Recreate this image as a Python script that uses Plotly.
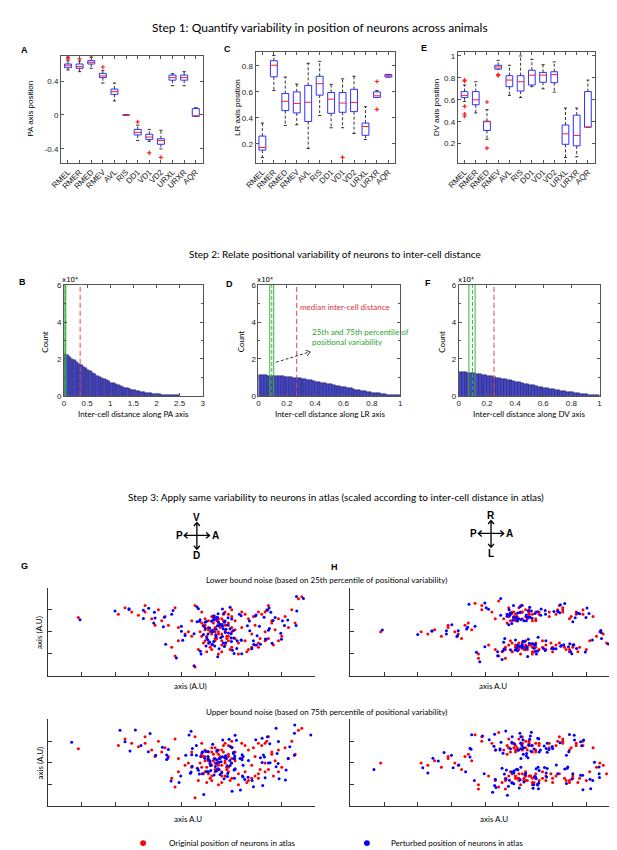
import numpy as np
import plotly.graph_objects as go

W, H = 617, 850

# ---------------- data ----------------
neurons = ['RMEL', 'RMER', 'RMED', 'RMEV', 'AVL', 'RIS', 'DD1', 'VD1', 'VD2', 'URXL', 'URXR', 'AQR']

# A: PA axis position
pa_med = [0.58, 0.57, 0.62, 0.46, 0.275, 0.0, -0.205, -0.26, -0.30, 0.44, 0.44, -0.01]
pa_q1 = [0.557, 0.55, 0.60, 0.44, 0.243, 0.0, -0.235, -0.29, -0.345, 0.41, 0.41, -0.016]
pa_q3 = [0.60, 0.60, 0.64, 0.49, 0.305, 0.0, -0.17, -0.227, -0.28, 0.47, 0.47, 0.075]
pa_lo = [0.53, 0.51, 0.55, 0.376, 0.165, 0.0, -0.30, -0.31, -0.40, 0.345, 0.345, -0.016]
pa_hi = [0.64, 0.635, 0.68, 0.525, 0.376, 0.0, -0.12, -0.17, -0.18, 0.486, 0.51, 0.086]
pa_out_i = [0, 0, 0, 1, 2, 3, 6, 7, 8]
pa_out_v = [0.70, 0.68, 0.66, 0.66, 0.70, 0.565, -0.082, -0.447, -0.50]

# C: LR axis position
lr_med = [0.172, 0.805, 0.527, 0.511, 0.52, 0.663, 0.544, 0.514, 0.519, 0.334, 0.57, 0.724]
lr_q1 = [0.152, 0.716, 0.456, 0.438, 0.372, 0.575, 0.435, 0.443, 0.448, 0.266, 0.557, 0.714]
lr_q3 = [0.26, 0.84, 0.587, 0.60, 0.65, 0.72, 0.595, 0.595, 0.62, 0.36, 0.60, 0.734]
lr_lo = [0.096, 0.61, 0.342, 0.347, 0.165, 0.418, 0.324, 0.324, 0.28, 0.233, 0.557, 0.714]
lr_hi = [0.36, 0.88, 0.714, 0.66, 0.82, 0.835, 0.658, 0.70, 0.72, 0.486, 0.61, 0.734]
lr_out_i = [7, 10, 10]
lr_out_v = [0.096, 0.68, 0.466]

# E: DV axis position
dv_med = [0.64, 0.60, 0.40, 0.90, 0.78, 0.765, 0.825, 0.825, 0.83, 0.29, 0.275, 0.35]
dv_q1 = [0.62, 0.555, 0.32, 0.88, 0.72, 0.68, 0.735, 0.76, 0.756, 0.194, 0.18, 0.35]
dv_q3 = [0.675, 0.675, 0.405, 0.915, 0.82, 0.82, 0.87, 0.85, 0.856, 0.37, 0.46, 0.675]
dv_lo = [0.585, 0.48, 0.24, 0.88, 0.64, 0.62, 0.72, 0.70, 0.67, 0.074, 0.08, 0.35]
dv_hi = [0.735, 0.765, 0.51, 0.96, 0.915, 1.0, 0.97, 0.92, 0.946, 0.525, 0.525, 0.78]
dv_out_i = [0, 0, 0, 0, 0, 2, 2, 3, 3]
dv_out_v = [0.78, 0.77, 0.54, 0.47, 0.45, 0.58, 0.16, 0.83, 0.82]

# histograms (counts in units of 1e4)
b_bin = 0.05
b_counts = [2.25, 2.2, 2.1, 2.0, 1.92, 1.82, 1.74, 1.65, 1.56, 1.48,
            1.40, 1.32, 1.24, 1.17, 1.10, 1.03, 0.96, 0.90, 0.84, 0.78,
            0.72, 0.67, 0.62, 0.57, 0.52, 0.48, 0.44, 0.40, 0.36, 0.33,
            0.30, 0.27, 0.24, 0.21, 0.19, 0.17, 0.15, 0.13, 0.11, 0.10,
            0.09, 0.08, 0.07, 0.06, 0.05, 0.04, 0.035, 0.03, 0.025, 0.02]
d_bin = 0.02
d_counts = [1.12, 1.12, 1.11, 1.10, 1.09, 1.08, 1.07, 1.06, 1.05, 1.04,
            1.02, 1.00, 0.98, 0.96, 0.94, 0.92, 0.89, 0.86, 0.83, 0.80,
            0.77, 0.74, 0.71, 0.68, 0.65, 0.62, 0.58, 0.55, 0.52, 0.49,
            0.46, 0.43, 0.40, 0.37, 0.34, 0.31, 0.28, 0.25, 0.22, 0.20,
            0.17, 0.15, 0.13, 0.11, 0.09, 0.07, 0.05, 0.04, 0.03, 0.02]
f_bin = 0.02
f_counts = [1.30, 1.29, 1.27, 1.25, 1.23, 1.21, 1.19, 1.16, 1.14, 1.11,
            1.08, 1.05, 1.02, 0.99, 0.96, 0.93, 0.90, 0.86, 0.83, 0.80,
            0.76, 0.73, 0.70, 0.66, 0.63, 0.60, 0.57, 0.54, 0.50, 0.47,
            0.44, 0.41, 0.38, 0.35, 0.32, 0.30, 0.27, 0.24, 0.22, 0.20,
            0.18, 0.16, 0.14, 0.12, 0.10, 0.09, 0.07, 0.06, 0.05, 0.04]

# percentile lines (25th, 75th), mid line and median inter-cell distance
b_pct = [0.02, 0.04]; b_mid = 0.03; b_median = 0.35
d_pct = [0.08, 0.108]; d_mid = 0.094; d_median = 0.27
f_pct = [0.072, 0.116]; f_mid = 0.097; f_median = 0.25

# atlas positions (A.U)
atlas_pa = [0.9, 2.1, 2.3, 2.5, 2.7, 2.9, 3.1, 3.3, 3.4, 3.6,
            3.5, 3.8, 3.9, 3.7, 3.8, 3.9, 4.2, 4.3, 4.4, 4.3,
            4.1, 4.5, 4.7, 4.8, 4.9, 4.9, 5.0, 5.0, 5.1, 5.1,
            5.2, 5.2, 5.3, 5.3, 5.4, 5.4, 5.5, 5.5, 5.6, 5.0,
            4.8, 5.2, 5.6, 5.4, 4.9, 5.1, 5.8, 5.9, 6.0, 6.1,
            6.2, 6.3, 6.4, 6.5, 6.6, 6.7, 6.8, 6.9, 7.0, 7.1,
            7.2, 7.3, 7.5, 7.6, 6.0, 6.3, 6.6, 6.9, 5.8, 6.2,
            4.6, 4.4, 3.2, 2.9, 5.7, 6.5, 7.4, 5.3, 4.7, 5.5]
atlas_dv = [2.65, 2.8, 3.1, 2.9, 2.75, 2.9, 2.6, 3.0, 2.5, 2.3,
            2.7, 3.1, 2.2, 1.3, 0.9, 1.6, 2.0, 1.8, 0.4, 2.5,
            1.9, 1.2, 2.3, 2.1, 1.9, 2.5, 2.2, 1.7, 2.4, 2.0,
            1.6, 2.6, 2.1, 1.4, 2.3, 1.8, 2.0, 1.3, 2.5, 2.7,
            1.5, 1.1, 1.7, 2.8, 1.2, 1.0, 2.2, 1.6, 2.6, 1.9,
            2.3, 1.5, 2.8, 2.0, 1.7, 2.4, 2.1, 2.6, 1.8, 2.7,
            2.2, 3.0, 3.5, 3.6, 1.2, 1.3, 3.2, 1.6, 2.9, 1.4,
            2.9, 3.2, 2.3, 3.2, 1.0, 2.9, 2.4, 2.9, 1.6, 3.0]
atlas_lr = [2.0, 2.0, 1.9, 2.1, 1.8, 2.2, 2.0, 1.7, 2.3, 2.1,
            2.4, 1.0, 3.2, 3.3, 0.8, 3.0, 2.9, 1.2, 0.9, 2.6,
            1.4, 1.1, 2.7, 2.9, 1.4, 2.8, 1.3, 2.6, 1.5, 2.9,
            1.2, 2.7, 1.4, 3.0, 1.3, 2.8, 1.5, 2.6, 1.2, 3.1,
            1.1, 1.6, 2.9, 1.0, 2.5, 3.2, 1.4, 2.7, 1.3, 2.8,
            1.5, 2.9, 1.2, 2.6, 1.4, 2.9, 1.3, 3.0, 1.2, 1.6,
            2.7, 1.8, 1.9, 1.5, 1.1, 3.0, 1.3, 2.8, 1.2, 3.2,
            0.8, 3.4, 1.9, 2.3, 1.6, 1.1, 2.0, 2.9, 3.1, 1.3]
# dense central cluster of the atlas
cluster_pa = [4.55, 4.6, 4.65, 4.7, 4.75, 4.8, 4.85, 4.9, 4.95, 5.0,
              5.05, 5.1, 5.15, 5.2, 5.25, 5.3, 5.35, 5.4, 5.45, 5.5,
              4.6, 4.7, 4.8, 4.9, 5.0, 5.1, 5.2, 5.3, 5.4, 5.5,
              4.65, 4.75, 4.85, 4.95, 5.05, 5.15, 5.25, 5.35, 5.6, 5.7,
              5.9, 6.1, 6.3, 6.5, 6.7, 5.95, 6.15, 6.35, 6.55, 6.75]
cluster_dv = [2.0, 2.4, 1.5, 2.6, 1.8, 2.2, 1.3, 2.7, 2.1, 1.6,
              2.5, 1.9, 2.3, 1.4, 2.8, 2.0, 1.7, 2.4, 1.2, 2.2,
              1.8, 2.1, 2.5, 1.4, 2.0, 2.6, 1.9, 2.3, 1.6, 2.7,
              2.3, 1.1, 2.0, 2.4, 1.7, 2.2, 2.5, 1.8, 2.1, 1.5,
              2.8, 1.3, 2.9, 1.6, 2.5, 1.1, 2.7, 1.7, 3.0, 1.4]
cluster_lr = [2.6, 1.2, 2.8, 1.4, 2.5, 1.1, 2.9, 1.3, 2.7, 1.5,
              1.0, 2.6, 1.3, 3.0, 1.2, 2.8, 1.4, 2.5, 1.1, 2.9,
              1.3, 2.7, 1.5, 2.6, 1.2, 2.9, 1.4, 2.8, 1.1, 2.5,
              2.4, 1.6, 2.7, 1.3, 2.9, 1.2, 2.6, 1.4, 2.8, 1.3,
              2.9, 1.4, 3.1, 1.2, 2.8, 1.5, 3.0, 1.3, 2.7, 1.1]

# displacement of each neuron, lower bound noise
low_dpa = [0.05, -0.1, 0.12, -0.08, 0.15, -0.05, 0.1, -0.12, 0.08, -0.15,
           0.2, -0.06, 0.09, -0.18, 0.04, 0.13, -0.1, 0.07, -0.03, 0.16,
           -0.11, 0.06, 0.14, -0.09, 0.03, -0.16, 0.11, -0.04, 0.18, -0.07,
           0.05, -0.13, 0.1, 0.02, -0.19, 0.08, -0.05, 0.15, -0.1, 0.04,
           0.12, -0.08, 0.06, -0.14, 0.09, -0.02, 0.17, -0.11, 0.03, -0.06,
           0.13, -0.15, 0.07, 0.1, -0.09, 0.04, -0.17, 0.12, -0.03, 0.08,
           -0.12, 0.15, -0.06, 0.05, 0.1, -0.14, 0.02, 0.09, -0.07, 0.16,
           -0.1, 0.06, -0.04, 0.11, -0.13, 0.07, 0.03, -0.08, 0.14, -0.05,
           0.1, -0.07, 0.13, -0.15, 0.04, 0.09, -0.12, 0.06, -0.03, 0.17,
           -0.09, 0.12, -0.05, 0.08, -0.16, 0.03, 0.14, -0.1, 0.07, -0.13,
           0.15, -0.04, 0.1, -0.08, 0.02, -0.14, 0.11, -0.06, 0.16, -0.11,
           0.05, -0.17, 0.09, 0.12, -0.02, 0.07, -0.1, 0.13, -0.05, 0.08,
           -0.12, 0.14, -0.07, 0.03, 0.1, -0.15, 0.06, -0.09, 0.12, -0.04]
low_ddv = [-0.1, 0.15, -0.05, 0.12, -0.14, 0.08, 0.03, -0.11, 0.16, -0.07,
           0.1, -0.13, 0.05, 0.14, -0.09, 0.02, -0.16, 0.11, 0.06, -0.04,
           0.13, -0.08, -0.12, 0.07, 0.15, -0.03, 0.09, -0.14, 0.04, 0.12,
           -0.1, 0.06, -0.15, 0.11, 0.03, -0.08, 0.14, -0.05, 0.09, -0.12,
           -0.06, 0.13, -0.1, 0.04, 0.16, -0.13, 0.08, 0.02, -0.11, 0.15,
           -0.04, 0.1, -0.14, 0.07, -0.02, 0.12, 0.05, -0.09, 0.14, -0.16,
           0.09, -0.05, 0.11, -0.08, 0.03, 0.13, -0.12, 0.06, -0.1, 0.04,
           0.15, -0.07, 0.1, -0.13, 0.02, 0.08, -0.11, 0.14, -0.06, 0.12,
           -0.12, 0.08, 0.14, -0.05, 0.1, -0.15, 0.06, 0.03, -0.09, 0.13,
           0.05, -0.11, 0.16, -0.07, 0.02, 0.12, -0.14, 0.09, -0.03, 0.11,
           -0.08, 0.15, -0.02, 0.1, -0.13, 0.04, 0.07, -0.16, 0.12, -0.06,
           0.14, -0.1, 0.03, -0.12, 0.09, 0.06, -0.15, 0.11, -0.04, 0.13,
           -0.07, 0.1, -0.13, 0.05, 0.15, -0.09, 0.02, 0.12, -0.11, 0.08]
low_dlr = [0.08, -0.12, 0.14, -0.06, 0.1, -0.15, 0.05, 0.12, -0.09, 0.03,
           -0.14, 0.07, 0.11, -0.04, -0.16, 0.09, 0.13, -0.1, 0.02, 0.15,
           -0.08, 0.12, -0.05, 0.1, -0.13, 0.06, 0.04, -0.11, 0.16, -0.02,
           0.09, -0.14, 0.07, 0.12, -0.06, 0.03, -0.1, 0.15, -0.08, 0.05,
           0.11, -0.03, 0.14, -0.12, 0.08, 0.01, -0.15, 0.1, -0.07, 0.13,
           -0.09, 0.05, 0.12, -0.14, 0.06, -0.04, 0.11, 0.08, -0.12, 0.03,
           0.14, -0.1, 0.07, -0.05, 0.13, -0.08, 0.1, -0.15, 0.04, 0.09,
           -0.06, 0.12, -0.11, 0.02, 0.15, -0.09, 0.06, -0.13, 0.1, -0.04,
           0.11, -0.06, 0.04, 0.13, -0.12, 0.08, -0.15, 0.1, -0.03, 0.06,
           0.14, -0.09, 0.12, -0.05, 0.07, -0.13, 0.02, 0.16, -0.1, 0.05,
           -0.11, 0.09, 0.13, -0.07, 0.15, -0.04, 0.08, -0.14, 0.03, 0.12,
           -0.08, 0.1, -0.12, 0.06, -0.02, 0.14, -0.1, 0.04, 0.11, -0.15,
           0.07, -0.05, 0.13, -0.09, 0.02, 0.1, -0.13, 0.08, -0.06, 0.15]
# displacement of each neuron, upper bound noise
high_dpa = [-0.2, 0.35, -0.15, 0.28, -0.4, 0.1, 0.32, -0.25, 0.18, -0.38,
            0.05, 0.42, -0.3, 0.22, -0.12, 0.36, -0.08, -0.33, 0.26, 0.14,
            0.4, -0.22, 0.09, -0.36, 0.3, 0.16, -0.28, 0.38, -0.06, 0.24,
            -0.35, 0.12, 0.29, -0.18, 0.41, -0.27, 0.07, 0.34, -0.14, -0.39,
            0.21, 0.31, -0.24, 0.11, -0.37, 0.27, 0.04, -0.3, 0.36, -0.1,
            0.25, -0.41, 0.17, 0.33, -0.19, -0.05, 0.39, -0.26, 0.13, 0.28,
            -0.34, 0.08, 0.37, -0.21, 0.15, -0.31, 0.23, 0.02, -0.38, 0.3,
            0.19, -0.12, 0.35, -0.29, 0.06, 0.4, -0.16, 0.26, -0.23, 0.1,
            0.32, -0.28, 0.15, -0.4, 0.22, 0.38, -0.1, -0.33, 0.27, 0.06,
            -0.36, 0.19, 0.41, -0.17, 0.3, -0.24, 0.09, 0.35, -0.3, -0.05,
            0.26, -0.39, 0.13, 0.37, -0.21, 0.04, -0.35, 0.29, 0.18, -0.27,
            0.4, -0.13, 0.24, -0.32, 0.07, 0.34, -0.19, -0.38, 0.21, 0.12,
            -0.26, 0.33, -0.08, 0.39, -0.22, 0.16, -0.31, 0.25, -0.14, 0.36]
high_ddv = [0.3, -0.25, 0.4, -0.1, 0.22, -0.38, 0.12, 0.35, -0.28, 0.06,
            -0.33, 0.18, 0.42, -0.2, 0.27, -0.07, 0.36, -0.4, 0.15, 0.3,
            -0.24, 0.39, -0.13, 0.25, -0.35, 0.08, 0.33, -0.18, -0.42, 0.2,
            0.37, -0.27, 0.11, 0.3, -0.15, 0.41, -0.32, 0.05, 0.26, -0.22,
            0.34, -0.4, 0.17, -0.09, 0.29, 0.38, -0.3, 0.13, -0.36, 0.21,
            0.07, -0.26, 0.4, -0.17, 0.32, -0.39, 0.1, 0.28, -0.12, -0.34,
            0.23, 0.36, -0.21, 0.14, -0.29, 0.04, 0.39, -0.33, 0.19, -0.08,
            -0.37, 0.26, -0.14, 0.31, -0.24, 0.09, 0.35, -0.41, 0.16, 0.27,
            -0.35, 0.26, 0.1, -0.22, 0.39, -0.14, 0.31, -0.4, 0.18, 0.05,
            -0.28, 0.34, -0.09, 0.23, -0.37, 0.14, 0.41, -0.19, 0.27, -0.32,
            0.08, -0.25, 0.36, -0.12, 0.3, -0.38, 0.2, 0.02, -0.3, 0.35,
            -0.16, 0.4, -0.27, 0.11, 0.33, -0.2, 0.06, -0.35, 0.28, -0.1,
            0.24, -0.33, 0.17, 0.38, -0.23, 0.09, -0.4, 0.3, 0.13, -0.18]
high_dlr = [-0.3, 0.22, -0.12, 0.38, -0.26, 0.15, -0.4, 0.08, 0.33, -0.19,
            0.28, -0.35, 0.1, -0.06, 0.4, -0.23, 0.17, 0.3, -0.38, 0.05,
            0.36, -0.14, 0.25, -0.31, 0.12, 0.41, -0.09, 0.2, -0.27, 0.34,
            -0.16, 0.39, -0.32, 0.07, 0.24, -0.4, 0.3, -0.11, 0.18, 0.37,
            -0.25, 0.13, -0.36, 0.29, -0.05, 0.21, 0.35, -0.2, 0.42, -0.13,
            0.31, -0.28, 0.06, 0.38, -0.34, 0.16, -0.1, 0.27, -0.39, 0.22,
            0.09, -0.3, 0.33, -0.17, 0.4, -0.24, 0.14, 0.26, -0.36, 0.11,
            0.28, -0.08, 0.37, -0.21, 0.19, -0.33, 0.03, 0.24, -0.15, 0.35,
            0.27, -0.33, 0.4, -0.15, 0.08, 0.35, -0.25, 0.19, -0.38, 0.3,
            -0.07, 0.22, -0.31, 0.37, -0.18, 0.12, -0.4, 0.28, 0.03, -0.26,
            0.34, -0.11, 0.21, -0.36, 0.39, -0.2, 0.14, 0.31, -0.29, -0.06,
            0.25, -0.34, 0.1, 0.38, -0.22, 0.17, -0.39, 0.29, -0.13, 0.06,
            -0.3, 0.36, -0.17, 0.23, -0.28, 0.41, -0.09, 0.2, -0.35, 0.15]

# ---------------- helpers ----------------
TICK_FONT = dict(family='Liberation Sans', size=8, color='#222')
TEXT_FONT = 'Lato'


def px(x):
    return x / W


def py(y):
    return 1 - y / H


def ax_names(n):
    s = '' if n == 1 else str(n)
    return 'x' + s, 'y' + s, 'xaxis' + s, 'yaxis' + s


fig = go.Figure()
annotations = []
shapes = []


def note(x, y, text, size=8, color='black', family=TEXT_FONT, xanchor='center', angle=0):
    annotations.append(dict(x=px(x), y=py(y), xref='paper', yref='paper', text=text, showarrow=False,
                            xanchor=xanchor, yanchor='middle', textangle=angle, align='left',
                            font=dict(family=family, size=size, color=color)))


def path(points_list, color='black', width=1, dash=None):
    # points in page pixels -> svg path in paper fractions
    d = ''
    for pts in points_list:
        d += 'M' + ' L'.join('%.5f,%.5f' % (px(a), py(b)) for a, b in pts) + ' '
    line = dict(color=color, width=width)
    if dash:
        line['dash'] = dash
    shapes.append(dict(type='path', xref='paper', yref='paper', path=d.strip(), line=line))


def set_axes(n, xs, ys, xkw, ykw):
    xr, yr, xa, ya = ax_names(n)
    fig.update_layout(**{
        xa: dict(domain=[px(xs[0]), px(xs[1])], anchor=yr, **xkw),
        ya: dict(domain=[py(ys[1]), py(ys[0])], anchor=xr, **ykw),
    })


box_axis = dict(showline=True, linecolor='#555', linewidth=1, mirror='ticks', ticks='inside',
                ticklen=3, tickcolor='#555', showgrid=False, zeroline=False, tickfont=TICK_FONT)


def add_boxes(n, q1, med, q3, lo, hi, out_i, out_v):
    xr, yr, _, _ = ax_names(n)
    bx, by, wx, wy, cx, cy, mx, my = [], [], [], [], [], [], [], []
    for i in range(len(med)):
        bx += [i - 0.3, i + 0.3, i + 0.3, i - 0.3, i - 0.3, None]
        by += [q1[i], q1[i], q3[i], q3[i], q1[i], None]
        wx += [i, i, None, i, i, None]
        wy += [q3[i], hi[i], None, q1[i], lo[i], None]
        cx += [i - 0.14, i + 0.14, None, i - 0.14, i + 0.14, None]
        cy += [hi[i], hi[i], None, lo[i], lo[i], None]
        mx += [i - 0.3, i + 0.3, None]
        my += [med[i], med[i], None]
    fig.add_trace(go.Scatter(x=wx, y=wy, mode='lines', line=dict(color='black', width=0.8, dash='3px,2px'),
                             xaxis=xr, yaxis=yr, hoverinfo='skip'))
    fig.add_trace(go.Scatter(x=cx, y=cy, mode='lines', line=dict(color='black', width=0.8),
                             xaxis=xr, yaxis=yr, hoverinfo='skip'))
    fig.add_trace(go.Scatter(x=bx, y=by, mode='lines', line=dict(color='#3030ff', width=1),
                             xaxis=xr, yaxis=yr, hoverinfo='skip'))
    fig.add_trace(go.Scatter(x=mx, y=my, mode='lines', line=dict(color='#ff2020', width=1),
                             xaxis=xr, yaxis=yr, hoverinfo='skip'))
    fig.add_trace(go.Scatter(x=out_i, y=out_v, mode='markers',
                             marker=dict(symbol='cross-thin', size=3, line=dict(color='#ff2020', width=1.2)),
                             xaxis=xr, yaxis=yr, hoverinfo='skip'))


# ---------------- Step 1: box plots ----------------
cat_x = dict(range=[-0.6, 11.6], tickvals=list(range(len(neurons))), ticktext=neurons, tickangle=-45)
add_boxes(1, pa_q1, pa_med, pa_q3, pa_lo, pa_hi, pa_out_i, pa_out_v)
set_axes(1, (43, 188), (44, 153), dict(box_axis, **cat_x),
         dict(box_axis, range=[-0.57, 0.70], tickvals=[-0.4, 0, 0.4], ticktext=['-0.4', '0', '0.4']))
add_boxes(2, lr_q1, lr_med, lr_q3, lr_lo, lr_hi, lr_out_i, lr_out_v)
set_axes(2, (242, 385), (40, 153), dict(box_axis, **cat_x),
         dict(box_axis, range=[0.05, 0.91], tickvals=[0.2, 0.4, 0.6, 0.8]))
add_boxes(3, dv_q1, dv_med, dv_q3, dv_lo, dv_hi, dv_out_i, dv_out_v)
set_axes(3, (449, 589), (40, 153), dict(box_axis, **cat_x),
         dict(box_axis, range=[0.02, 1.04], tickvals=[0.2, 0.4, 0.6, 0.8, 1.0],
              ticktext=['0.2', '0.4', '0.6', '0.8', '1']))

note(308, 16, 'Step 1: Quantify variability in position of neurons across animals', size=12)
note(6, 38, '<b>A</b>', size=9, family='Liberation Sans')
note(213, 37, '<b>C</b>', size=9, family='Liberation Sans')
note(414, 36, '<b>E</b>', size=9, family='Liberation Sans')
note(12, 98, 'PA axis position', size=8, family='Liberation Sans', angle=-90)
note(224, 97, 'LR axis position', size=8, family='Liberation Sans', angle=-90)
note(428, 97, 'DV axis position', size=8, family='Liberation Sans', angle=-90)

# ---------------- Step 2: histograms ----------------
hist_y = dict(box_axis, range=[0, 6], tickvals=[0, 2, 4, 6], ticktext=['0', '2', '4', '6'],
              minor=dict(dtick=1, ticks='inside', ticklen=2, tickcolor='#555', showgrid=False))


def add_hist(n, counts, bw, pct, mid, median):
    xr, yr, _, _ = ax_names(n)
    centers = (np.arange(len(counts)) + 0.5) * bw
    fig.add_trace(go.Bar(x=centers, y=counts, width=bw, xaxis=xr, yaxis=yr,
                         marker=dict(color='#4646c8', line=dict(color='#1c1c60', width=0.5)), hoverinfo='skip'))
    for v in pct:
        fig.add_trace(go.Scatter(x=[v, v], y=[0, 6], mode='lines', line=dict(color='#3cb043', width=1),
                                 xaxis=xr, yaxis=yr, hoverinfo='skip'))
    fig.add_trace(go.Scatter(x=[mid, mid], y=[0, 6], mode='lines', line=dict(color='#3cb043', width=1, dash='4px,2px'),
                             xaxis=xr, yaxis=yr, hoverinfo='skip'))
    fig.add_trace(go.Scatter(x=[median, median], y=[0, 6], mode='lines',
                             line=dict(color='#e8404a', width=1, dash='5px,3px'),
                             xaxis=xr, yaxis=yr, hoverinfo='skip'))


add_hist(4, b_counts, b_bin, b_pct, b_mid, b_median)
set_axes(4, (46, 188), (276, 388), dict(box_axis, range=[0, 3], tickvals=[0, 0.5, 1, 1.5, 2, 2.5, 3],
                                        ticktext=['0', '0.5', '1', '1.5', '2', '2.5', '3']), hist_y)
dx = dict(box_axis, range=[0, 1], tickvals=[0, 0.2, 0.4, 0.6, 0.8, 1], ticktext=['0', '0.2', '0.4', '0.6', '0.8', '1'])
add_hist(5, d_counts, d_bin, d_pct, d_mid, d_median)
set_axes(5, (245, 390), (276, 388), dx, hist_y)
add_hist(6, f_counts, f_bin, f_pct, f_mid, f_median)
set_axes(6, (450, 594), (276, 388), dx, hist_y)

note(323, 245, 'Step 2: Relate positional variability of neurons to inter-cell distance', size=10)
note(4, 273, '<b>B</b>', size=9, family='Liberation Sans')
note(215, 275, '<b>D</b>', size=9, family='Liberation Sans')
note(418, 274, '<b>F</b>', size=9, family='Liberation Sans')
for xl in (52, 252, 457):
    note(xl, 271, 'x10\u2074', size=7, family='DejaVu Sans', xanchor='center')
for xc in (27, 228, 433):
    note(xc, 333, 'Count', size=8, angle=-90)
note(117, 406, 'Inter-cell distance along PA axis', size=8)
note(318, 406, 'Inter-cell distance along LR axis', size=8)
note(522, 406, 'Inter-cell distance along DV axis', size=8)
note(285, 298, 'median inter-cell distance', size=8, color='#e0303a', xanchor='left')
note(298, 323, '25th and 75th percentile of', size=8, color='#2aa52a', xanchor='left')
note(298, 334, 'positional variability', size=8, color='#2aa52a', xanchor='left')
# dashed arrow pointing to the percentile lines
path([[(263, 354), (296, 344)]], color='#333', width=1, dash='3px,2px')
path([[(295.0, 347.5), (298, 343.5), (293.3, 341.8)]], color='#333', width=1)

# ---------------- Step 3: scatter panels ----------------
note(324, 490, 'Step 3: Apply same variability to neurons in atlas (scaled according to inter-cell distance in atlas)',
     size=10)


def compass(cx, cy, top, bottom):
    t, b, l, r = cy - 13, cy + 14, cx - 13, cx + 13
    path([[(cx, t), (cx, b)], [(l, cy), (r, cy)],
          [(cx - 3, t + 3.5), (cx, t), (cx + 3, t + 3.5)],
          [(cx - 3, b - 3.5), (cx, b), (cx + 3, b - 3.5)],
          [(l + 3.5, cy - 3), (l, cy), (l + 3.5, cy + 3)],
          [(r - 3.5, cy - 3), (r, cy), (r - 3.5, cy + 3)]], color='black', width=1.3)
    note(cx, cy - 18, '<b>%s</b>' % top, size=10, family='Liberation Sans')
    note(cx, cy + 20, '<b>%s</b>' % bottom, size=10, family='Liberation Sans')
    note(cx - 18, cy, '<b>P</b>', size=10, family='Liberation Sans')
    note(cx + 19, cy, '<b>A</b>', size=10, family='Liberation Sans')


compass(182, 529, 'V', 'D')
compass(483, 527, 'R', 'L')
note(6, 560, '<b>G</b>', size=9, family='Liberation Sans')
note(323, 561, '<b>H</b>', size=9, family='Liberation Sans')
note(315, 574, 'Lower bound noise (based on 25th percentile of positional variability)', size=8)
note(315, 707, 'Upper bound noise (based on 75th percentile of positional variability)', size=8)

all_pa = np.array(atlas_pa + cluster_pa)
all_dv = np.array(atlas_dv + cluster_dv)
all_lr = np.array(atlas_lr + cluster_lr)
low_pa = all_pa + np.array(low_dpa)
low_dv = all_dv + np.array(low_ddv)
low_lr = all_lr + np.array(low_dlr)
high_pa = all_pa + np.array(high_dpa)
high_dv = all_dv + np.array(high_ddv)
high_lr = all_lr + np.array(high_dlr)

sc_axis = dict(showline=True, linecolor='#333', linewidth=1.3, mirror=False, ticks='inside', ticklen=4,
               tickcolor='#333', tickwidth=1.2, showgrid=False, zeroline=False, showticklabels=False, dtick=1)

panels = [
    (7, (30, 303), (582, 671), all_dv, low_pa, low_dv),
    (8, (339, 615), (582, 671), all_lr, low_pa, low_lr),
    (9, (30, 303), (715, 803), all_dv, high_pa, high_dv),
    (10, (339, 615), (715, 803), all_lr, high_pa, high_lr),
]
for n, xs, ys, orig_y, pert_x, pert_y in panels:
    xr, yr, _, _ = ax_names(n)
    fig.add_trace(go.Scatter(x=all_pa, y=orig_y, mode='markers', xaxis=xr, yaxis=yr,
                             marker=dict(color='#ff0000', size=3), hoverinfo='skip'))
    fig.add_trace(go.Scatter(x=pert_x, y=pert_y, mode='markers', xaxis=xr, yaxis=yr,
                             marker=dict(color='#0000ff', size=3), hoverinfo='skip'))
    set_axes(n, xs, ys, dict(sc_axis, range=[0, 8]), dict(sc_axis, range=[0, 4]))

note(21, 627, 'axis (A.U)', size=8, angle=-90)
note(21, 759, 'axis (A.U)', size=8, angle=-90)
note(175, 681, 'axis (A.U)', size=8)
note(485, 681, 'axis A.U', size=8)
note(173, 816, 'axis A.U', size=8)
note(486, 816, 'axis A.U', size=8)

# legend
shapes.append(dict(type='circle', xref='paper', yref='paper', x0=px(124), x1=px(130), y0=py(843), y1=py(837),
                   fillcolor='#ff0000', line=dict(width=0)))
shapes.append(dict(type='circle', xref='paper', yref='paper', x0=px(353), x1=px(359), y0=py(843), y1=py(837),
                   fillcolor='#0000ff', line=dict(width=0)))
note(151, 840, 'Originial position of neurons in atlas', size=8, xanchor='left')
note(379, 840, 'Perturbed position of neurons in atlas', size=8, xanchor='left')

fig.update_layout(width=W, height=H, margin=dict(l=0, r=0, t=0, b=0), showlegend=False,
                  paper_bgcolor='white', plot_bgcolor='white', bargap=0,
                  annotations=annotations, shapes=shapes)

fig.write_html("out.html")
